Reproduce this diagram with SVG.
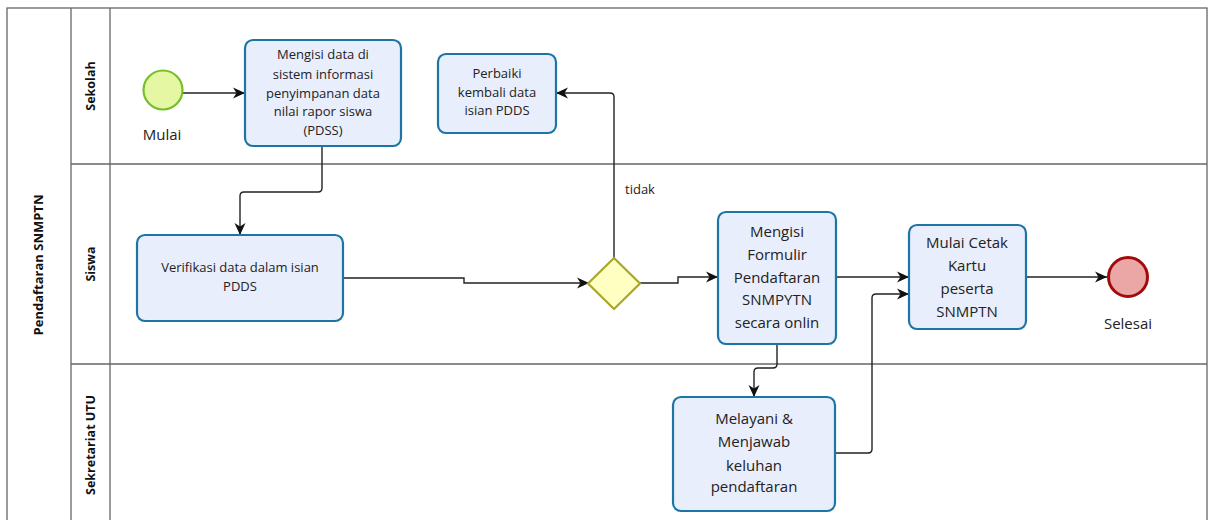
<svg xmlns="http://www.w3.org/2000/svg" width="1208" height="520" viewBox="0 0 1208 520">
<defs>
<marker id="arr" markerWidth="13" markerHeight="12" refX="12" refY="6" orient="auto" markerUnits="userSpaceOnUse">
<path d="M0,0.5 L12,6 L0,11.5 L3.5,6 z" fill="#111"/>
</marker>
<style>
.lane{fill:none;stroke:#666;stroke-width:1.3}
.task{fill:#e9eefc;stroke:#1d75a6;stroke-width:2.2}
.t{font-family:"Open Sans","Noto Sans",sans-serif;fill:#222;text-anchor:middle}
.lbl{font-family:"Open Sans","Noto Sans",sans-serif;font-weight:bold;fill:#111;text-anchor:middle;font-size:12.5px}
.c{fill:none;stroke:#222;stroke-width:1.4;marker-end:url(#arr)}
</style>
</defs>
<rect width="1208" height="520" fill="#fff"/>
<g id="pool">
<rect class="lane" x="7" y="8" width="1200" height="520" stroke="#444"/>
<line class="lane" x1="71" y1="8" x2="71" y2="520"/>
<line class="lane" x1="110" y1="8" x2="110" y2="520"/>
<line class="lane" x1="71" y1="164" x2="1207" y2="164"/>
<line class="lane" x1="71" y1="364" x2="1207" y2="364"/>
<text class="lbl" transform="translate(43,265) rotate(-90)" style="font-size:13px">Pendaftaran SNMPTN</text>
<text class="lbl" transform="translate(95,86) rotate(-90)">Sekolah</text>
<text class="lbl" transform="translate(95,264) rotate(-90)">Siswa</text>
<text class="lbl" transform="translate(95,445) rotate(-90)">Sekretariat UTU</text>
</g>
<g id="connectors">
<path class="c" d="M183,93 H245"/>
<path class="c" d="M322,146 V188 Q322,192 318,192 H244 Q240,192 240,196 V235"/>
<path class="c" d="M343,278 H464 V283 H589"/>
<path class="c" d="M614,258 V97 Q614,93 610,93 H556"/>
<text class="t" x="640" y="194" style="font-size:13px">tidak</text>
<path class="c" d="M640,283 H678 V277 H718"/>
<path class="c" d="M836,277 H909"/>
<path class="c" d="M1026,277 H1107"/>
<path class="c" d="M777,344 V364 Q777,368 773,368 H758 Q754,368 754,372 V397"/>
<path class="c" d="M835,453 H868 Q872,453 872,449 V298 Q872,294 876,294 H909"/>
</g>
<g id="start">
<circle cx="163" cy="90" r="19.5" fill="#e6f7a4" stroke="#74bf2a" stroke-width="2.2"/>
<text class="t" x="162" y="140" style="font-size:15px">Mulai</text>
</g>
<g id="task1">
<rect class="task" x="245" y="40" width="156" height="106" rx="8"/>
<text class="t" style="font-size:13px"><tspan x="323" y="59">Mengisi data di</tspan><tspan x="323" y="79">sistem informasi</tspan><tspan x="323" y="98">penyimpanan data</tspan><tspan x="323" y="116">nilai rapor siswa</tspan><tspan x="323" y="135">(PDSS)</tspan></text>
</g>
<g id="task2">
<rect class="task" x="438" y="54" width="118" height="79" rx="8"/>
<text class="t" style="font-size:13px"><tspan x="497" y="78">Perbaiki</tspan><tspan x="497" y="97">kembali data</tspan><tspan x="497" y="115">isian PDDS</tspan></text>
</g>
<g id="task3">
<rect class="task" x="137" y="235" width="206" height="86" rx="8"/>
<text class="t" style="font-size:13px"><tspan x="240" y="272">Verifikasi data dalam isian</tspan><tspan x="240" y="291">PDDS</tspan></text>
</g>
<g id="gateway">
<polygon points="614,258 640,283.5 614,309 588,283.5" fill="#ffffc2" stroke="#a9a72a" stroke-width="2.2"/>
</g>
<g id="task4">
<rect class="task" x="718" y="212" width="118" height="132" rx="8"/>
<text class="t" style="font-size:15px"><tspan x="777" y="237">Mengisi</tspan><tspan x="777" y="260">Formulir</tspan><tspan x="777" y="283">Pendaftaran</tspan><tspan x="777" y="305">SNMPYTN</tspan><tspan x="777" y="328">secara onlin</tspan></text>
</g>
<g id="task5">
<rect class="task" x="909" y="225" width="117" height="104" rx="8"/>
<text class="t" style="font-size:15px"><tspan x="967" y="248">Mulai Cetak</tspan><tspan x="967" y="271">Kartu</tspan><tspan x="967" y="294">peserta</tspan><tspan x="967" y="317">SNMPTN</tspan></text>
</g>
<g id="end">
<circle cx="1128" cy="277" r="19.5" fill="#eba6a6" stroke="#a30a0a" stroke-width="3"/>
<text class="t" x="1128" y="329" style="font-size:15px">Selesai</text>
</g>
<g id="task6">
<rect class="task" x="673" y="397" width="162" height="114" rx="8"/>
<text class="t" style="font-size:15px"><tspan x="754" y="424">Melayani &amp;</tspan><tspan x="754" y="447">Menjawab</tspan><tspan x="754" y="471">keluhan</tspan><tspan x="754" y="492">pendaftaran</tspan></text>
</g>
</svg>
